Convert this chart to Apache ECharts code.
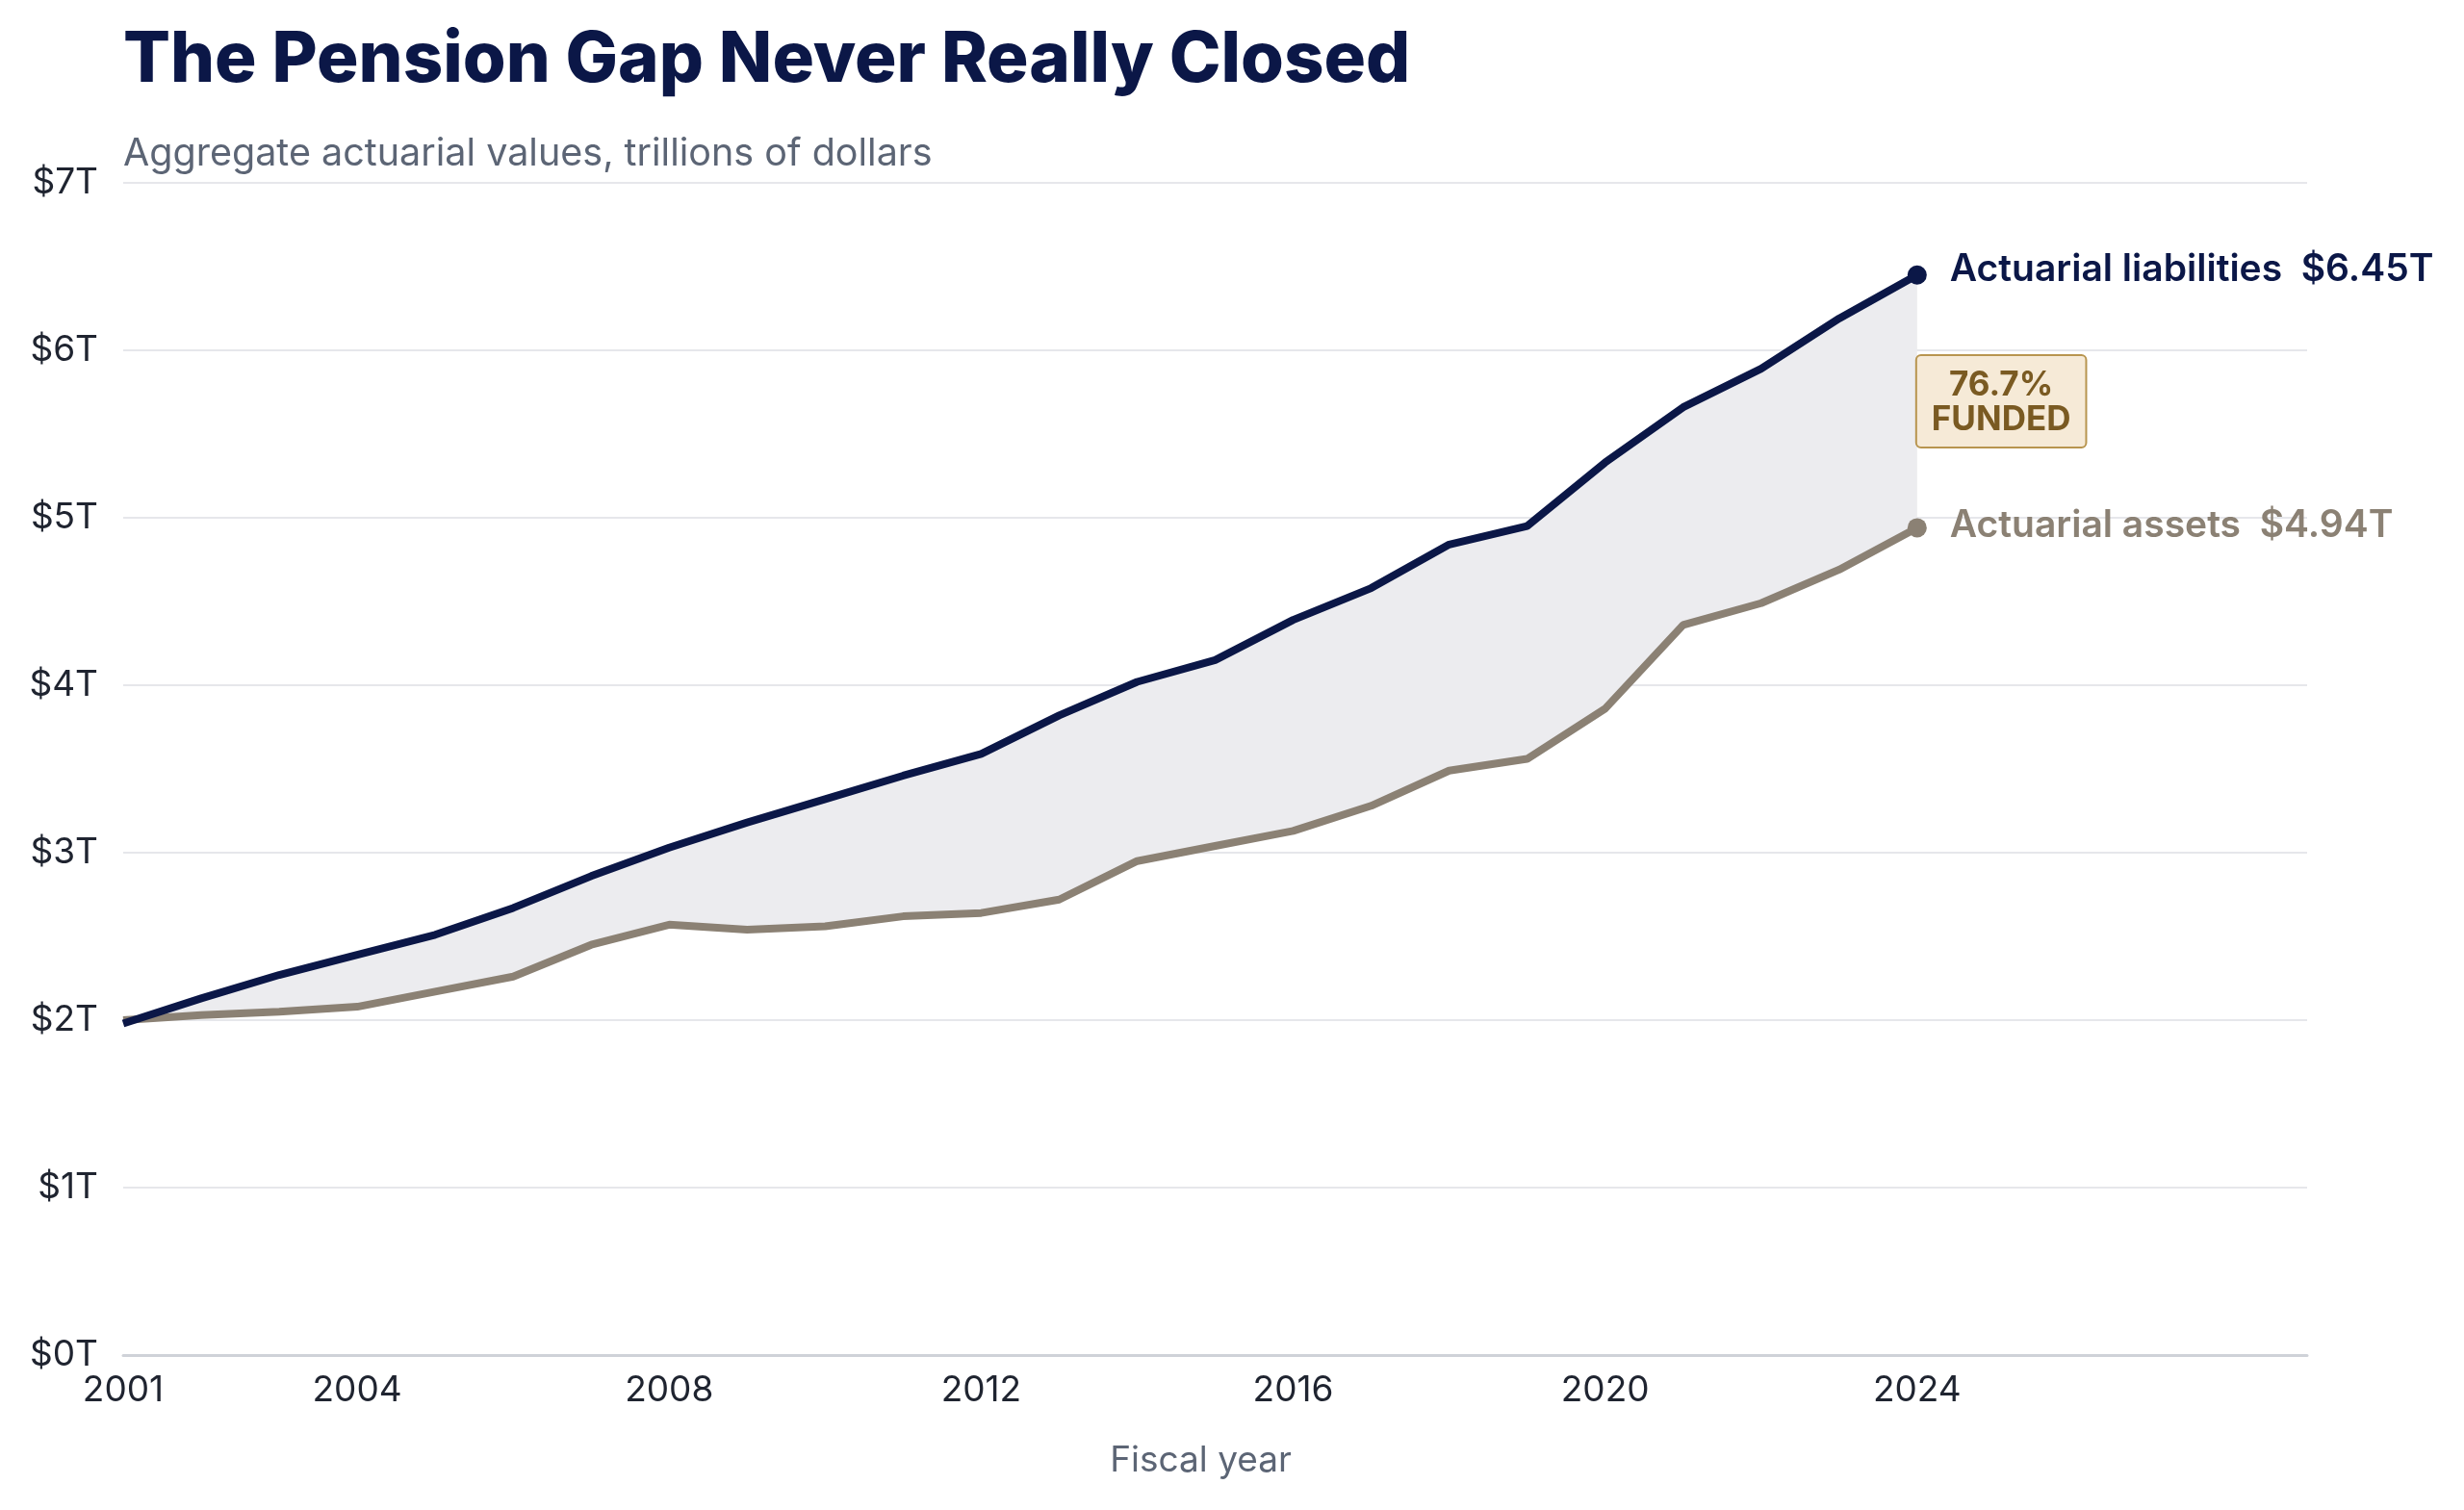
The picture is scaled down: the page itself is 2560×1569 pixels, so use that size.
<!DOCTYPE html>
<html>
<head>
<meta charset="utf-8">
<title>The Pension Gap Never Really Closed</title>
<script src="https://cdn.jsdelivr.net/npm/echarts@6/dist/echarts.min.js"></script>
<style>
  html, body { margin: 0; padding: 0; background: #ffffff; }
  #main { width: 2560px; height: 1569px; }
</style>
</head>
<body>
<div id="main"></div>
<script>
// fiscal years on the axis (axis runs on past the last data year)
var years = ['2001','2002','2003','2004','2005','2006','2007','2008','2009','2010',
             '2011','2012','2013','2014','2015','2016','2017','2018','2019','2020',
             '2021','2022','2023','2024','2025','2026','2027','2028','2029'];
var labelYears = ['2001','2004','2008','2012','2016','2020','2024'];

// trillions of dollars, 2001-2024
var liabilities = [1.98, 2.13, 2.27, 2.39, 2.51, 2.67, 2.86, 3.03, 3.18, 3.32,
                   3.46, 3.59, 3.82, 4.02, 4.15, 4.39, 4.58, 4.84, 4.95, 5.33,
                   5.66, 5.89, 6.19, 6.45];
var assets = [2.00, 2.03, 2.05, 2.08, 2.17, 2.26, 2.45, 2.57, 2.54, 2.56,
              2.62, 2.64, 2.72, 2.95, 3.04, 3.13, 3.28, 3.49, 3.56, 3.86,
              4.36, 4.49, 4.69, 4.94];
var fundedText = '76.7%';

var navy = '#0b1747';
var taupe = '#8b8174';
var last = liabilities.length - 1;

// gap between the two lines, stacked on top of assets for the band
var gap = liabilities.map(function (v, i) { return +(v - assets[i]).toFixed(3); });

var myChart = echarts.init(document.getElementById('main'));

var option = {
    backgroundColor: '#ffffff',
    animation: false,
    textStyle: { fontFamily: 'Inter' },
    title: [
        {
            text: 'The Pension Gap Never Really Closed',
            left: 123,
            top: 22,
            textStyle: { fontFamily: 'Inter', fontSize: 72.5, fontWeight: 800, color: navy }
        },
        {
            text: 'Aggregate actuarial values, trillions of dollars',
            left: 123,
            top: 135,
            textStyle: { fontFamily: 'Inter', fontSize: 39.5, fontWeight: 400, color: '#5c6575' }
        }
    ],
    grid: { left: 128, right: 163, top: 190, bottom: 161 },
    xAxis: {
        type: 'category',
        data: years,
        boundaryGap: false,
        name: 'Fiscal year',
        nameLocation: 'middle',
        nameGap: 91,
        nameTextStyle: { fontFamily: 'Inter', fontSize: 37, color: '#5c6575', padding: [0, 30, 0, 0] },
        axisLine: { lineStyle: { color: '#cfd2d8', width: 3 } },
        axisTick: { show: false },
        axisLabel: {
            interval: function (idx, val) { return labelYears.indexOf(val) >= 0; },
            margin: 18,
            fontFamily: 'Inter',
            fontSize: 37,
            color: '#1f2430'
        },
        splitLine: { show: false }
    },
    yAxis: {
        type: 'value',
        min: 0,
        max: 7,
        interval: 1,
        axisLine: { show: false },
        axisTick: { show: false },
        axisLabel: {
            formatter: function (v) { return '$' + v + 'T'; },
            margin: 26,
            fontFamily: 'Inter',
            fontSize: 37,
            color: '#1f2430'
        },
        splitLine: { lineStyle: { color: '#e6e7eb', width: 2 } }
    },
    series: [
        // band base (invisible)
        {
            type: 'line',
            data: assets,
            stack: 'band',
            stackStrategy: 'all',
            symbol: 'none',
            lineStyle: { opacity: 0 },
            silent: true,
            z: 1
        },
        // band fill between assets and liabilities
        {
            type: 'line',
            data: gap,
            stack: 'band',
            stackStrategy: 'all',
            symbol: 'none',
            lineStyle: { opacity: 0 },
            areaStyle: { color: '#ececef', opacity: 1 },
            silent: true,
            z: 1,
            markPoint: {
                symbol: 'circle',
                symbolSize: 0,
                data: [{
                    coord: [years[last], (liabilities[last] + assets[last]) / 2],
                    value: fundedText
                }],
                label: {
                    show: true,
                    position: 'right',
                    distance: 0,
                    formatter: '{a|' + fundedText + '}\n{a|FUNDED}',
                    rich: {
                        a: {
                            align: 'center',
                            fontFamily: 'Inter',
                            fontSize: 35,
                            fontWeight: 700,
                            lineHeight: 36,
                            color: '#7a5a22'
                        }
                    },
                    backgroundColor: '#f6ead7',
                    borderColor: '#b8954f',
                    borderWidth: 2,
                    borderRadius: 4,
                    padding: [12, 15, 10, 15]
                }
            }
        },
        {
            name: 'Actuarial assets',
            type: 'line',
            data: assets,
            symbol: 'circle',
            showAllSymbol: true,
            symbolSize: function (v, p) { return p.dataIndex === last ? 20 : 0; },
            itemStyle: { color: taupe },
            lineStyle: { color: taupe, width: 8 },
            endLabel: {
                show: true,
                distance: 34,
                offset: [0, -2],
                formatter: function (p) { return 'Actuarial assets  $' + assets[last].toFixed(2) + 'T'; },
                fontFamily: 'Inter',
                fontSize: 39,
                fontWeight: 600,
                color: taupe
            },
            z: 3
        },
        {
            name: 'Actuarial liabilities',
            type: 'line',
            data: liabilities,
            symbol: 'circle',
            showAllSymbol: true,
            symbolSize: function (v, p) { return p.dataIndex === last ? 20 : 0; },
            itemStyle: { color: navy },
            lineStyle: { color: navy, width: 8 },
            endLabel: {
                show: true,
                distance: 34,
                offset: [0, -5],
                formatter: function (p) { return 'Actuarial liabilities  $' + liabilities[last].toFixed(2) + 'T'; },
                fontFamily: 'Inter',
                fontSize: 39,
                fontWeight: 600,
                color: navy
            },
            z: 4
        }
    ]
};

myChart.setOption(option);
</script>
</body>
</html>
